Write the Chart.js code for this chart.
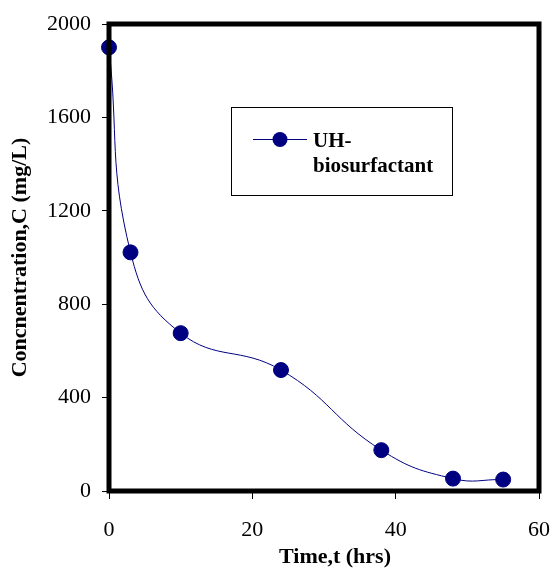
<!DOCTYPE html>
<html><head><meta charset="utf-8">
<script src="https://cdn.jsdelivr.net/npm/chart.js@4/dist/chart.umd.min.js"></script>
<style>html,body{margin:0;padding:0;background:#fff}#wrap{width:552px;height:568px;position:relative}</style>
</head><body><div id="wrap"><canvas id="c" width="552" height="568"></canvas></div>
<script>
const timeHrs = [0, 3, 10, 24, 38, 48, 55];
const concentration = [1900, 1022, 676, 518, 175, 53, 49];
const xTicks = [0, 20, 40, 60];
const yTicks = [0, 400, 800, 1200, 1600, 2000];
const seriesName = ['UH-', 'biosurfactant'];
const xTitle = 'Time,t (hrs)';
const yTitle = 'Concnentration,C (mg/L)';

const SERIF = '"Liberation Serif","Times New Roman",serif';
const NAVY = '#000080';

const framePlugin = {
  id: 'frame',
  afterDatasetsDraw(chart) {
    const {ctx, chartArea: a} = chart;
    ctx.save();
    ctx.strokeStyle = '#000';
    ctx.lineWidth = 5;
    ctx.strokeRect(a.left, a.top, a.right - a.left, a.bottom - a.top);
    // legend box
    const bx = 231, by = 107, bw = 221, bh = 88;
    ctx.fillStyle = '#fff';
    ctx.fillRect(bx, by, bw, bh);
    ctx.lineWidth = 1;
    ctx.strokeStyle = '#000';
    ctx.strokeRect(bx + 0.5, by + 0.5, bw, bh);
    ctx.strokeStyle = NAVY;
    ctx.beginPath(); ctx.moveTo(253, 139.5); ctx.lineTo(307, 139.5); ctx.stroke();
    ctx.fillStyle = NAVY;
    ctx.beginPath(); ctx.arc(280, 139.5, 7.5, 0, Math.PI * 2); ctx.fill();
    ctx.fillStyle = '#000';
    ctx.font = 'bold 21px ' + SERIF;
    ctx.textBaseline = 'alphabetic';
    ctx.textAlign = 'left';
    ctx.fillText(seriesName[0], 313, 147);
    ctx.fillText(seriesName[1], 313, 172);
    ctx.restore();
  }
};

function shiftTitle(s) {
  if (s._shifted) return;
  s._shifted = true;
  const orig = s.drawTitle.bind(s);
  s.drawTitle = function () {
    const ctx = this.ctx;
    ctx.save();
    ctx.translate(11, 3);
    orig();
    ctx.restore();
  };
}

new Chart(document.getElementById('c'), {
  type: 'scatter',
  data: {
    datasets: [{
      label: seriesName.join(' '),
      data: timeHrs.map((t, i) => ({x: t, y: concentration[i]})),
      showLine: true,
      borderColor: NAVY,
      borderWidth: 1,
      backgroundColor: NAVY,
      pointBackgroundColor: NAVY,
      pointBorderColor: NAVY,
      pointRadius: 7.5,
      tension: 0.45,
      clip: false
    }]
  },
  options: {
    responsive: false,
    animation: false,
    devicePixelRatio: 1,
    layout: {padding: {top: 24, right: 13, left: 0, bottom: 0}},
    plugins: {legend: {display: false}, tooltip: {enabled: false}},
    scales: {
      x: {
        type: 'linear', min: 0, max: 60,
        afterBuildTicks: s => { s.ticks = xTicks.map(v => ({value: v})); },
        afterFit: s => { s.height = 77; s.paddingRight = 0; s.paddingLeft = 0; shiftTitle(s); },
        grid: {display: true, drawOnChartArea: false, drawTicks: true, tickLength: 8, color: '#000', lineWidth: 1},
        border: {display: false},
        ticks: {color: '#000', font: {family: SERIF, size: 22}, padding: 18, maxRotation: 0, callback: v => String(v)},
        title: {display: true, text: xTitle, color: '#000', font: {family: SERIF, size: 22, weight: 'bold'}, padding: {top: 4, bottom: 0}}
      },
      y: {
        type: 'linear', min: 0, max: 2000,
        afterBuildTicks: s => { s.ticks = yTicks.map(v => ({value: v})); },
        afterFit: s => { s.width = 109; s.paddingTop = 0; s.paddingBottom = 0; },
        grid: {display: true, drawOnChartArea: false, drawTicks: true, tickLength: 7, color: '#000', lineWidth: 1},
        border: {display: false},
        ticks: {color: '#000', font: {family: SERIF, size: 22}, padding: 11, callback: v => String(v)},
        title: {display: true, text: yTitle, color: '#000', font: {family: SERIF, size: 22, weight: 'bold'}, padding: {top: 7, bottom: 0}}
      }
    }
  },
  plugins: [framePlugin]
});
</script></body></html>
